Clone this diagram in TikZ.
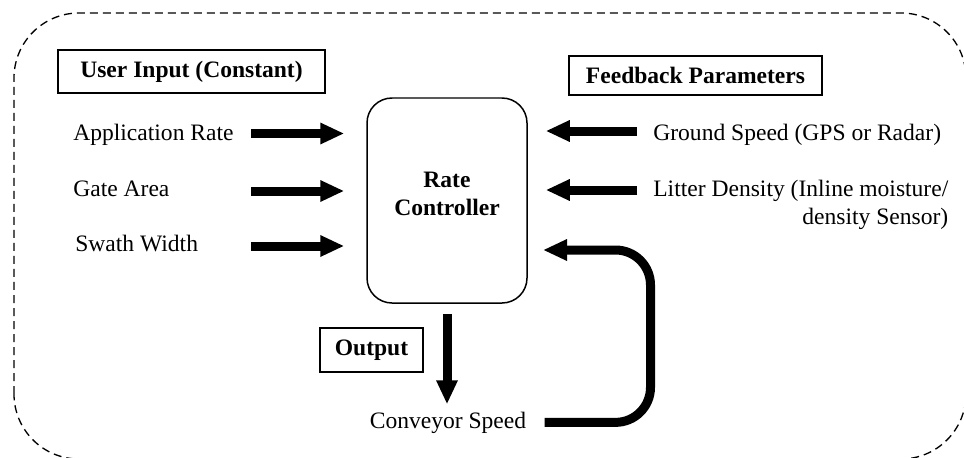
\documentclass[tikz,border=0pt]{standalone}
\usepackage{fontspec}
\setmainfont{Liberation Serif}
\usetikzlibrary{arrows.meta}

\begin{document}
\begin{tikzpicture}[
    every node/.style={font=\fontsize{13.4}{15.9}\selectfont, inner sep=0pt},
    tag/.style={draw, line width=1pt, font=\fontsize{13.4}{15.9}\selectfont\bfseries, minimum width=#1},
    fat/.style={line width=0.18cm, -{Triangle[width=0.4cm,length=0.48cm]}}
]

\useasboundingbox (0,0) rectangle (19.28,9.14);

% dashed frame round everything
\draw[line width=0.75pt, dash pattern=on 0.16cm off 0.1cm, rounded corners=1.3cm]
  (0.28,-0.04) rectangle (19.32,8.88);

\node[draw, line width=0.85pt, rounded corners=0.5cm, minimum width=3.2cm, minimum height=4.1cm] (ctrl) at (8.94,5.13) {};
\node[font=\fontsize{13.4}{15.9}\selectfont\bfseries, align=center] (ctrltxt) at (8.94,5.27) {Rate\\Controller};

\node[tag=5.34cm, minimum height=0.86cm] (userin) at (3.83,7.71) {User Input (Constant)};
\node[tag=5.06cm, minimum height=0.78cm] (fbpar) at (13.91,7.63) {Feedback Parameters};
\node[tag=2.06cm, minimum height=0.88cm] (outbox) at (7.43,2.14) {Output};

% constant inputs
\node[anchor=base west] (app) at (1.46,6.33) {Application Rate};
\node[anchor=base west] (gate) at (1.46,5.21) {Gate Area};
\node[anchor=base west] (swath) at (1.50,4.11) {Swath Width};

\coordinate (appS) at (5.02,6.47);
\coordinate (gateS) at (5.02,5.32);
\coordinate (swathS) at (5.02,4.22);

\draw[fat, shorten >=0.44cm] (appS) -- (appS -| ctrl.west);
\draw[fat, shorten >=0.44cm] (gateS) -- (gateS -| ctrl.west);
\draw[fat, shorten >=0.44cm] (swathS) -- (swathS -| ctrl.west);

% measured parameters
\node[anchor=base west] (ground) at (13.06,6.34) {Ground Speed (GPS or Radar)};
\node[anchor=base west, align=right] (litter) at (13.06,4.65) {Litter Density (Inline moisture/\\density Sensor)};

\coordinate (groundS) at (12.74,6.52);
\coordinate (litterS) at (12.74,5.34);

\draw[fat, shorten >=0.36cm] (groundS) -- (groundS -| ctrl.east);
\draw[fat, shorten >=0.36cm] (litterS) -- (litterS -| ctrl.east);

% output and loop back
\node[anchor=base] (conv) at (8.96,0.58) {Conveyor Speed};

\draw[fat, shorten <=0.2cm, shorten >=0.14cm] (ctrl.south) -- (ctrl.south |- conv.north);

\coordinate (bend) at (13.01,4.14);
\coordinate (fbin) at (10.86,4.14);
\draw[fat, rounded corners=0.7cm, shorten <=0.36cm] (conv.east) -| (bend) -- (fbin);

\end{tikzpicture}
\end{document}
